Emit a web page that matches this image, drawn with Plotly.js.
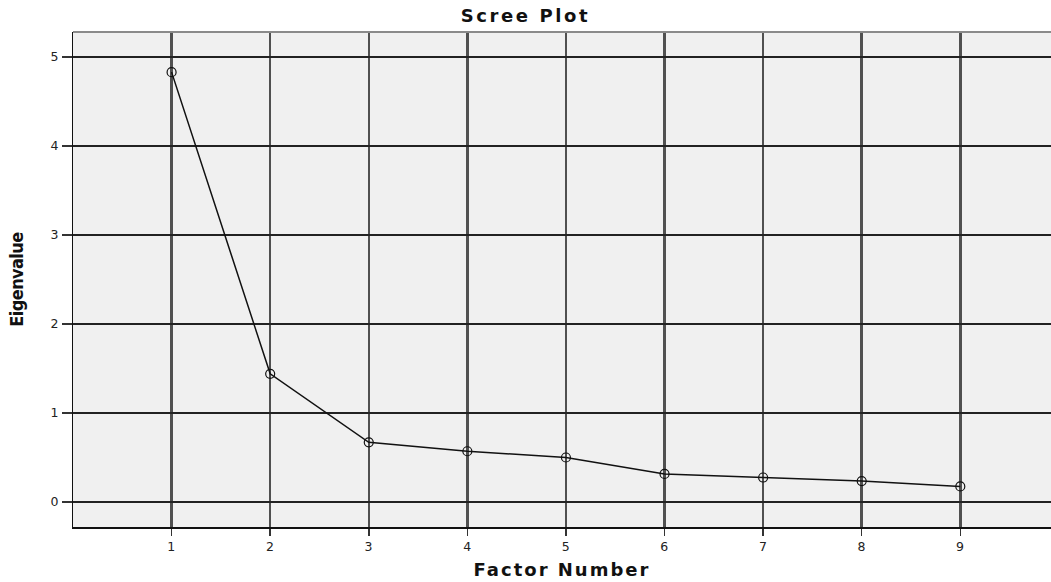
<!DOCTYPE html>
<html>
<head>
<meta charset="utf-8">
<script src="https://cdn.plot.ly/plotly-3.0.1.min.js"></script>
<style>
html,body{margin:0;padding:0;background:#fff;}
#chart{width:1051px;height:582px;}
#chart .gtitle{letter-spacing:2.6px;}
#chart .xtitle{letter-spacing:2px;}
#chart .ytitle{letter-spacing:-0.6px;}
#chart .xtick text, #chart .ytick text{letter-spacing:0.5px;}
</style>
</head>
<body>
<div id="chart"></div>
<script>
const factorNumbers = [1, 2, 3, 4, 5, 6, 7, 8, 9];
const eigenvalues = [4.83, 1.44, 0.67, 0.57, 0.50, 0.315, 0.275, 0.235, 0.175];
const xTickVals = [1, 2, 3, 4, 5, 6, 7, 8, 9];
const yTickVals = [0, 1, 2, 3, 4, 5];

const trace = {
  x: factorNumbers,
  y: eigenvalues,
  type: 'scatter',
  mode: 'lines+markers',
  line: {color: '#111', width: 1.5},
  marker: {symbol: 'circle-open', size: 9, color: '#111', line: {width: 1.2, color: '#111'}},
  hoverinfo: 'x+y',
  showlegend: false
};

const layout = {
  width: 1051,
  height: 582,
  margin: {l: 73, r: 0, t: 32, b: 55},
  paper_bgcolor: '#ffffff',
  plot_bgcolor: '#f0f0f0',
  title: {
    text: '<b>Scree Plot</b>',
    font: {family: 'DejaVu Sans, Verdana, sans-serif', size: 18, color: '#111'},
    x: 0.5, xanchor: 'center', y: 0.973, yanchor: 'middle'
  },
  xaxis: {
    range: [0, 9.92],
    tickvals: xTickVals,
    ticktext: xTickVals.map(String),
    ticks: 'outside', ticklen: 7, tickwidth: 1.5, tickcolor: '#333',
    showgrid: true, gridcolor: '#505050', gridwidth: 2.5,
    zeroline: false,
    showline: true, linecolor: '#111', linewidth: 1.5,
    tickfont: {family: 'DejaVu Sans, Verdana, sans-serif', size: 12.5, color: '#222'},
    title: {text: '<b>Factor Number</b>', font: {family: 'DejaVu Sans, Verdana, sans-serif', size: 18, color: '#111'}, standoff: 11}
  },
  yaxis: {
    range: [-0.281, 5.281],
    tickvals: yTickVals,
    ticktext: yTickVals.map(String),
    ticks: 'outside', ticklen: 10, tickwidth: 1.5, tickcolor: '#333',
    showgrid: true, gridcolor: '#222', gridwidth: 1.3,
    zeroline: false,
    showline: true, linecolor: '#111', linewidth: 1.5,
    tickfont: {family: 'DejaVu Sans, Verdana, sans-serif', size: 12.5, color: '#222'},
    title: {text: '<b>Eigenvalue</b>', font: {family: 'Liberation Sans Narrow, DejaVu Sans Condensed, DejaVu Sans, sans-serif', size: 18, color: '#111'}, standoff: 22}
  },
  shapes: [
    {type: 'line', xref: 'paper', yref: 'paper', x0: 0, x1: 1, y0: 1, y1: 1, line: {color: '#8a8a8a', width: 2}}
  ]
};

Plotly.newPlot('chart', [trace], layout, {displayModeBar: false, staticPlot: true});
</script>
</body>
</html>
